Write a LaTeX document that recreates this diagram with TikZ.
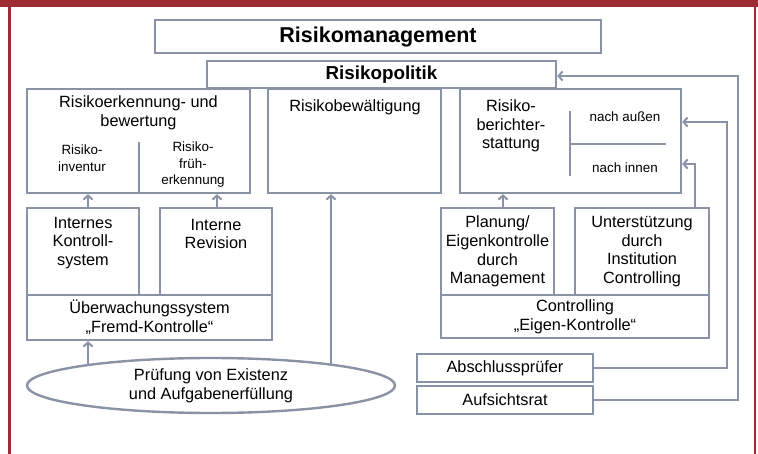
\documentclass[tikz,border=0pt]{standalone}
\usepackage{fontspec}
\setmainfont{Liberation Sans}
\usetikzlibrary{arrows.meta,shapes.geometric,calc}
\definecolor{framered}{HTML}{9E2B33}
\definecolor{gc}{HTML}{8A92A6}
\newcommand\mainsz{\fontsize{16.3pt}{18.7pt}\selectfont}
\newcommand\smallsz{\fontsize{13.4pt}{16.5pt}\selectfont}
\newcommand\bigsz{\fontsize{21.5pt}{24pt}\selectfont}
\newcommand\polsz{\fontsize{18.8pt}{22pt}\selectfont}
\begin{document}
\begin{tikzpicture}[x=1pt,y=-1pt,
  box/.style={draw=gc, line width=2.4pt, fill=white, inner sep=0pt, align=center, font=\mainsz},
  lbl/.style={inner sep=0pt, align=center, font=\mainsz},
  slbl/.style={inner sep=0pt, align=center, font=\smallsz},
  divider/.style={draw=gc, line width=2.4pt},
  arr/.style={draw=gc, line width=2.4pt, -{Straight Barb[length=4pt,width=9pt,line width=2pt]}}]
\useasboundingbox (0,0) rectangle (758,454);
\fill[framered] (0,0) rectangle (758,7);
\fill[framered] (8,0) rectangle (10.5,454);
\fill[framered] (753.5,0) rectangle (756,454);

% top boxes
\node[box, minimum width=446pt, minimum height=33pt, font=\bigsz\bfseries] (man) at (378,36.5) {Risikomanagement};
\node[box, minimum width=349pt, minimum height=27pt, font=\polsz\bfseries] (pol) at (381.5,74.5) {Risikopolitik};

% second row
\node[box, minimum width=223pt, minimum height=104pt] (erk) at (138.5,141) {};
\node[box, minimum width=173pt, minimum height=104pt] (bew) at (354.5,141) {};
\node[box, minimum width=221pt, minimum height=104pt] (ber) at (570.5,141) {};

\node[lbl] (erkT) at (138.5,113) {Risikoerkennung- und\\bewertung};
\node[slbl] (inv) at (82,158) {Risiko-\\inventur};
\node[slbl] (fru) at (193,165) {Risiko-\\früh-\\erkennung};
\draw[divider] (139,193) -- (139,142);

\node[lbl] (bewT) at (355,107) {Risikobewältigung};

\node[lbl] (berT) at (511,126) {Risiko-\\berichter-\\stattung};
\node[slbl] (aus) at (625,117) {nach außen};
\node[slbl] (inn) at (625,168) {nach innen};
\draw[divider] (570,111) -- (570,176);
\draw[divider] (570,144) -- (666,144);

% left lower group
\node[box, minimum width=112pt, minimum height=87pt] (iks) at (83,251.5) {};
\node[box, minimum width=112pt, minimum height=87pt] (rev) at (216,251.5) {};
\node[box, minimum width=245pt, minimum height=45pt] (ueb) at (149.5,317.5) {Überwachungssystem\\„Fremd-Kontrolle“};
\node[lbl] (iksT) at (83,243) {Internes\\Kontroll-\\system};
\node[lbl] (revT) at (216,234) {Interne\\Revision};

% right lower group
\node[box, minimum width=113pt, minimum height=87pt] (pla) at (497.5,251.5) {Planung/\\Eigenkontrolle\\durch\\Management};
\node[box, minimum width=134pt, minimum height=87pt] (unt) at (642,251.5) {Unterstützung\\durch\\Institution\\Controlling};
\node[box, minimum width=268pt, minimum height=43pt] (con) at (575,316.5) {Controlling\\„Eigen-Kontrolle“};

\node[box, minimum width=176pt, minimum height=28pt] (abs) at (505,368) {Abschlussprüfer};
\node[box, minimum width=176pt, minimum height=28pt] (auf) at (505,400) {Aufsichtsrat};

\node[ellipse, draw=gc, line width=2.4pt, fill=white, minimum width=368pt, minimum height=55pt, inner sep=0pt, align=center, font=\mainsz] (pruef) at (211,385.5) {Prüfung von Existenz\\und Aufgabenerfüllung};

% connectors
\coordinate (a1) at ($(iks.north)+(5,0)$);
\coordinate (a2) at ($(rev.north)+(1,0)$);
\coordinate (a3) at ($(pla.north)+(5.5,0)$);
\coordinate (a4) at ($(unt.north)+(53,0)$);
\coordinate (e1) at (88,365);
\coordinate (e2) at (331,365);
\draw[arr] (a1) -- (a1 |- erk.south);
\draw[arr] (a2) -- (a2 |- erk.south);
\draw[arr] (a3) -- (a3 |- ber.south);
\draw[arr] (e1) -- (e1 |- ueb.south);
\draw[arr] (e2) -- (e2 |- bew.south);
\draw[arr] (a4) |- ($(ber.east)+(0,23)$);
\draw[arr] (abs.east) -| ($(ber.east)+(45,-19)$) -- ($(ber.east)+(0,-19)$);
\draw[arr] (auf.east) -| ($(pol.east)+(181,1.5)$) -- ($(pol.east)+(0,1.5)$);
\end{tikzpicture}
\end{document}
